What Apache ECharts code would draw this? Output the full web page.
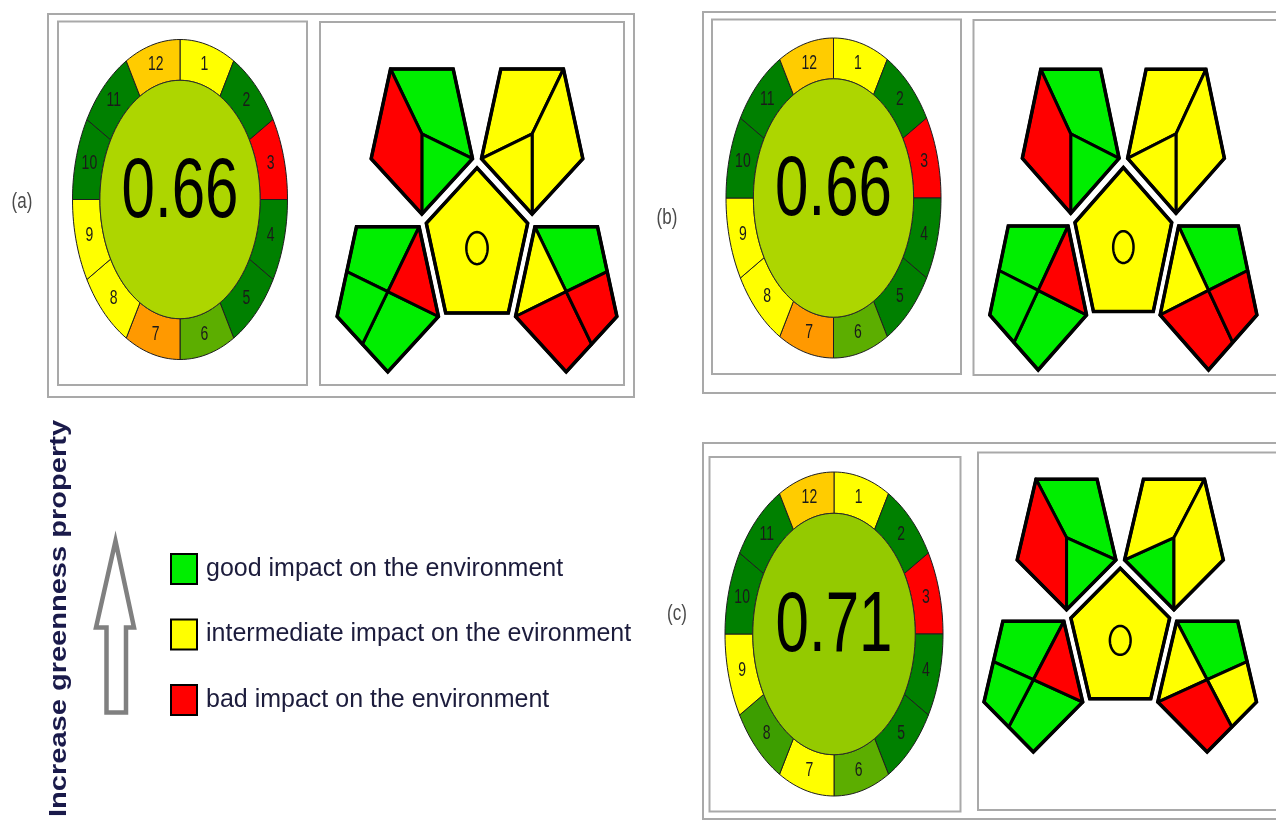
<!DOCTYPE html>
<html><head><meta charset="utf-8">
<script src="https://cdn.jsdelivr.net/npm/echarts@6/dist/echarts.min.js"></script>
<style>html,body{margin:0;padding:0;background:#fff}#chart{width:1276px;height:821px}</style>
</head><body><div id="chart"></div>
<script>
// ================= DATA =================
const panelLabels = ['(a)', '(b)', '(c)'];
// AGREE: 12 principle segments, score 0..1 per segment, and total score shown in the centre
const agreeSegments = ['1','2','3','4','5','6','7','8','9','10','11','12'];
const agreeScoresA = [0.5, 1, 0, 1, 1, 0.82, 0.3, 0.5, 0.5, 1, 1, 0.4];
const agreeScoresB = [0.5, 1, 0, 1, 1, 0.82, 0.3, 0.5, 0.5, 1, 1, 0.4];
const agreeScoresC = [0.5, 1, 0, 1, 1, 0.82, 0.5, 0.88, 0.5, 1, 1, 0.4];
const agreeTotals = [0.66, 0.66, 0.71];
// GAPI: 15 fields (by position in the pictogram), each rated good / intermediate / bad
const gapiFields = ['tl1','tl2','tl3','tr1','tr2','tr3','c1','ll1','ll2','ll3','ll4','lr1','lr2','lr3','lr4'];
const gapiLevelsA = ['good','good','bad','intermediate','intermediate','intermediate','intermediate','good','bad','good','good','good','intermediate','bad','bad'];
const gapiLevelsB = ['good','good','bad','intermediate','intermediate','intermediate','intermediate','good','bad','good','good','good','intermediate','bad','bad'];
const gapiLevelsC = ['good','good','bad','intermediate','intermediate','good','intermediate','good','bad','good','good','good','intermediate','bad','intermediate'];
const impactKeys = ['good', 'intermediate', 'bad'];
const impactNames = ['good impact on the environment', 'intermediate impact on the evironment', 'bad impact on the environment'];
const sideLabel = 'Increase greenness property';

// ================= LAYOUT / STYLE =================
const AGREE_POS = [
  {cx: 180, cy: 199.5, rx: 107.5, ry: 160},
  {cx: 833.5, cy: 198, rx: 107.5, ry: 160},
  {cx: 834, cy: 634, rx: 109, ry: 162}
];
const GAPI_POS = [
  {cx: 477, cy: 248.1, sx: 53.3, sy: 80.2},
  {cx: 1131.2, cy: 247.1, sx: 53.5, sy: 79.6},
  {cx: 1129.2, cy: 665.6, sx: 54.9, sy: 82.3}
];
const LEVEL_COLORS = {good: '#00ee00', intermediate: '#ffff00', bad: '#ff0000'};
const INNER = 0.745;
const TEXT_STRETCH = 1.42;

// ================= GEOMETRY TEMPLATES (unit space) =================
const D2R = Math.PI / 180;
const pt = (r, deg) => [r * Math.cos(deg * D2R), r * Math.sin(deg * D2R)];
const mid = (a, b) => [(a[0] + b[0]) / 2, (a[1] + b[1]) / 2];
const add = (a, b) => [a[0] + b[0], a[1] + b[1]];
const GAP_D = 1.76;
function invPent(c) {
  const v = {C: c, B: add(c, pt(1, 270)), R: add(c, pt(1, 342)), TR: add(c, pt(1, 54)), TL: add(c, pt(1, 126)), L: add(c, pt(1, 198))};
  v.mTLL = mid(v.TL, v.L); v.mLB = mid(v.L, v.B); v.mBR = mid(v.B, v.R); v.mTRR = mid(v.TR, v.R);
  return v;
}
const TLp = invPent(pt(GAP_D, 126)), TRp = invPent(pt(GAP_D, 54)), LLp = invPent(pt(GAP_D, 198)), LRp = invPent(pt(GAP_D, 342));
const centralPent = [90, 162, 234, 306, 18].map(a => pt(1, a));
const FIELD_SHAPES = {
  tl1: [TLp.TL, TLp.TR, TLp.R, TLp.C], tl2: [TLp.C, TLp.R, TLp.B], tl3: [TLp.TL, TLp.C, TLp.B, TLp.L],
  tr1: [TRp.TL, TRp.TR, TRp.C, TRp.L], tr2: [TRp.TR, TRp.R, TRp.B, TRp.C], tr3: [TRp.L, TRp.C, TRp.B],
  c1: centralPent,
  ll1: [LLp.TL, LLp.TR, LLp.C, LLp.mTLL], ll2: [LLp.TR, LLp.R, LLp.C], ll3: [LLp.C, LLp.R, LLp.B, LLp.mLB], ll4: [LLp.mTLL, LLp.C, LLp.mLB, LLp.L],
  lr1: [LRp.TL, LRp.TR, LRp.mTRR, LRp.C], lr2: [LRp.TL, LRp.C, LRp.L], lr3: [LRp.L, LRp.C, LRp.mBR, LRp.B], lr4: [LRp.C, LRp.mTRR, LRp.R, LRp.mBR]
};
const PENT_OUTLINES = [TLp, TRp, LLp, LRp].map(v => [v.B, v.R, v.TR, v.TL, v.L]).concat([centralPent]);

// ================= RENDERERS =================
function renderAgree(params, api) {
  const k = api.value(0), s = api.value(1), color = api.visual('color');
  const P = p => api.coord(p);
  if (k === 0) {
    const pts = [];
    for (let a = 0; a < 360; a += 3) pts.push(P(pt(INNER, a)));
    const c = P([0, 0.04]);
    return {type: 'group', children: [
      {type: 'polygon', shape: {points: pts}, style: {fill: color, stroke: '#2a2a2a', lineWidth: 1}},
      {type: 'text', x: c[0], y: c[1], scaleY: TEXT_STRETCH, style: {text: s.toFixed(2), fill: '#000', fontSize: 60, fontFamily: '"Liberation Sans", Arial, sans-serif', align: 'center', verticalAlign: 'middle'}}
    ]};
  }
  const a0 = 90 - 30 * (k - 1), a1 = 90 - 30 * k;
  const pts = [];
  for (let a = a0; a >= a1; a -= 2) pts.push(P(pt(1, a)));
  for (let a = a1; a <= a0; a += 2) pts.push(P(pt(INNER, a)));
  const lab = P(pt((1 + INNER) / 2, (a0 + a1) / 2));
  return {type: 'group', children: [
    {type: 'polygon', shape: {points: pts}, style: {fill: color, stroke: '#1e1e1e', lineWidth: 1}},
    {type: 'text', x: lab[0], y: lab[1], scaleY: TEXT_STRETCH, style: {text: agreeSegments[k - 1], fill: '#1a1a1a', fontSize: 14, fontFamily: '"Liberation Sans", Arial, sans-serif', align: 'center', verticalAlign: 'middle'}}
  ]};
}
function renderGapiCell(params, api) {
  const f = api.value(0);
  const pts = FIELD_SHAPES[gapiFields[f]].map(p => api.coord(p));
  return {type: 'polygon', shape: {points: pts}, style: {fill: api.visual('color'), stroke: '#000', lineWidth: 3, lineJoin: 'round'}};
}
function renderGapiOutline(params, api) {
  const i = api.value(0);
  const children = [{type: 'polygon', shape: {points: PENT_OUTLINES[i].map(p => api.coord(p))}, style: {fill: 'none', stroke: '#000', lineWidth: 3.5, lineJoin: 'miter'}}];
  if (i === 4) {
    const circ = [];
    for (let a = 0; a < 360; a += 6) circ.push(api.coord(pt(0.2, a)));
    children.push({type: 'polygon', shape: {points: circ}, style: {fill: 'none', stroke: '#000', lineWidth: 2.5}});
  }
  return {type: 'group', children};
}

// ================= OPTION =================
const grids = [], xAxes = [], yAxes = [], series = [];
AGREE_POS.forEach(p => {
  grids.push({left: p.cx - p.rx, top: p.cy - p.ry, width: 2 * p.rx, height: 2 * p.ry});
  xAxes.push({gridIndex: grids.length - 1, type: 'value', min: -1, max: 1, show: false});
  yAxes.push({gridIndex: grids.length - 1, type: 'value', min: -1, max: 1, show: false});
});
GAPI_POS.forEach(p => {
  grids.push({left: p.cx - 3 * p.sx, top: p.cy - 2.5 * p.sy, width: 6 * p.sx, height: 5 * p.sy});
  xAxes.push({gridIndex: grids.length - 1, type: 'value', min: -3, max: 3, show: false});
  yAxes.push({gridIndex: grids.length - 1, type: 'value', min: -2.5, max: 2.5, show: false});
});
[agreeScoresA, agreeScoresB, agreeScoresC].forEach((scores, i) => {
  const data = scores.map((s, k) => [k + 1, s]);
  data.push([0, agreeTotals[i]]);
  series.push({type: 'custom', name: 'AGREE ' + panelLabels[i], xAxisIndex: i, yAxisIndex: i, dimensions: ['segment', 'score'], encode: {x: 0, y: 1}, renderItem: renderAgree, data, silent: true});
});
[gapiLevelsA, gapiLevelsB, gapiLevelsC].forEach((levels, i) => {
  impactKeys.forEach((lv, j) => {
    const data = [];
    levels.forEach((l, f) => { if (l === lv) data.push([f, 0]); });
    series.push({type: 'custom', name: impactNames[j], xAxisIndex: 3 + i, yAxisIndex: 3 + i, itemStyle: {color: LEVEL_COLORS[lv]}, renderItem: renderGapiCell, data, silent: true});
  });
  series.push({type: 'custom', name: 'GAPI frame ' + panelLabels[i], xAxisIndex: 3 + i, yAxisIndex: 3 + i, z: 5, renderItem: renderGapiOutline, data: [[0, 0], [1, 0], [2, 0], [3, 0], [4, 0]], silent: true});
});

const boxStyle = {fill: 'none', stroke: '#a9a9a9', lineWidth: 2};
const rect = (x, y, w, h) => ({type: 'rect', shape: {x, y, width: w, height: h}, style: boxStyle, z: -1});
const labelText = (t, x, y) => ({type: 'text', x, y, scaleY: 1.3, style: {text: t, fill: '#4a4a4a', fontSize: 17, fontFamily: '"Liberation Sans", Arial, sans-serif', align: 'center', verticalAlign: 'middle'}});

const option = {
  backgroundColor: '#fff',
  animation: false,
  grid: grids, xAxis: xAxes, yAxis: yAxes,
  visualMap: {type: 'continuous', show: false, min: 0, max: 1, dimension: 1, seriesIndex: [0, 1, 2], inRange: {color: ['#ff0000', '#ffff00', '#008000']}},
  legend: {
    data: impactNames, orient: 'vertical', left: 170, top: 553, padding: 0, itemWidth: 26, itemHeight: 30, itemGap: 33.5,
    icon: 'rect', selectedMode: false, itemStyle: {borderColor: '#000', borderWidth: 2},
    textStyle: {fontFamily: '"Liberation Sans", Arial, sans-serif', fontSize: 25, color: '#1c1c3c', padding: [0, 0, 0, 4]}
  },
  graphic: [
    rect(48, 14, 586, 383), rect(58, 21.5, 249, 363.5), rect(320, 22, 304, 363),
    rect(703, 12, 600, 381), rect(712, 19.5, 249, 354.5), rect(973.5, 20, 320, 355),
    rect(703, 443, 600, 376), rect(709.5, 457, 251, 354.5), rect(978, 452.5, 320, 357.5),
    labelText(panelLabels[0], 22, 202), labelText(panelLabels[1], 667, 218), labelText(panelLabels[2], 677, 614),
    {type: 'text', x: 59, y: 618.5, rotation: Math.PI / 2, scaleX: 1.21,
     style: {text: sideLabel, fill: '#1a1a4a', fontSize: 24, fontWeight: 'bold', fontFamily: '"Liberation Sans", Arial, sans-serif', align: 'center', verticalAlign: 'middle'}},
    {type: 'polygon', shape: {points: [[115.5, 541], [134, 627.5], [126, 627.5], [126, 712.5], [106.5, 712.5], [106.5, 627.5], [96, 627.5]]},
     style: {fill: '#fff', stroke: '#808080', lineWidth: 4.5, lineJoin: 'miter'}}
  ],
  series
};
const chart = echarts.init(document.getElementById('chart'), null, {renderer: 'canvas'});
chart.setOption(option);
</script>
</body></html>
